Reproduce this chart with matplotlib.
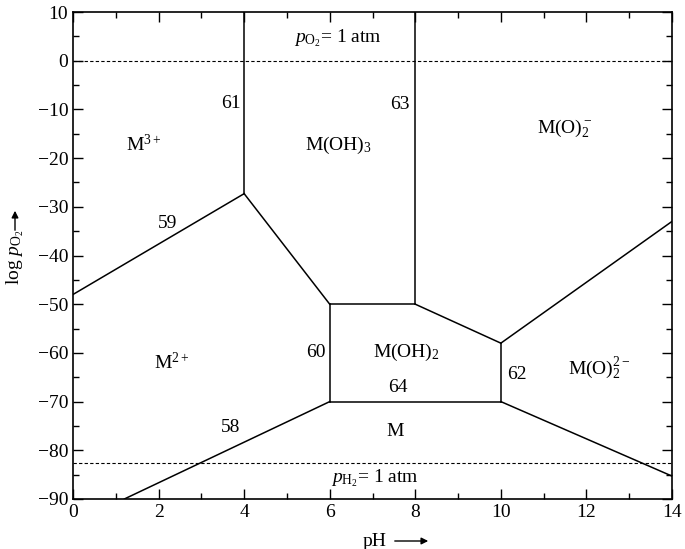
import numpy as np
import matplotlib.pyplot as plt
from matplotlib.ticker import MultipleLocator

plt.rcParams['font.family'] = ['Liberation Serif', 'DejaVu Serif']
plt.rcParams['mathtext.fontset'] = 'custom'
plt.rcParams['mathtext.rm'] = 'Liberation Serif'
plt.rcParams['mathtext.it'] = 'Liberation Serif:italic'

# boundary lines: (pH values, log pO2 values)
line_58 = ([1.2, 6], [-90, -70])
line_59 = ([0, 4], [-48, -27.3])
line_61 = ([4, 4], [-27.3, 10])
line_4_6 = ([4, 6], [-27.3, -50])
line_60 = ([6, 6], [-50, -70])
line_top = ([6, 8], [-50, -50])
line_63 = ([8, 8], [-50, 10])
line_8_10 = ([8, 10], [-50, -58])
line_62 = ([10, 10], [-58, -70])
line_10_14 = ([10, 14], [-58, -33])
line_64 = ([6, 10], [-70, -70])
line_right = ([10, 14], [-70, -85.3])
lines = [line_58, line_59, line_61, line_4_6, line_60, line_top, line_63,
         line_8_10, line_62, line_10_14, line_64, line_right]

o2_limit = 0.0
h2_limit = -82.6

# labels: text, pH, log pO2
labels = [
    (r'M$^{3+}$', 1.65, -17.3),
    ('61', 3.68, -8.7),
    (r'M(OH)$_3$', 6.2, -17.3),
    ('63', 7.64, -8.9),
    (r'M(O)$_2^-$', 11.5, -13.8),
    ('59', 2.2, -33.5),
    (r'M$^{2+}$', 2.3, -61.9),
    ('60', 5.68, -60.0),
    (r'M(OH)$_2$', 7.8, -60.0),
    ('62', 10.37, -64.5),
    (r'M(O)$_2^{2-}$', 12.3, -63.1),
    ('64', 7.6, -67.2),
    ('M', 7.52, -76.2),
    ('58', 3.68, -75.4),
    (r'$p_{\mathrm{O_2}}$= 1 atm', 6.2, 4.7),
    (r'$p_{\mathrm{H_2}}$= 1 atm', 7.05, -85.7),
]

fig = plt.figure(figsize=(6.85, 5.49), dpi=100)
ax = fig.add_axes([0.1066, 0.0911, 0.8744, 0.8870])

for x, y in lines:
    ax.plot(x, y, color='black', lw=1.1)

ax.axhline(o2_limit, color='black', lw=0.8, ls=(0, (3, 2)))
ax.axhline(h2_limit, color='black', lw=0.8, ls=(0, (3, 2)))

for txt, x, y in labels:
    ax.text(x, y, txt, fontsize=14, ha='center', va='center')

ax.set_xlim(0, 14)
ax.set_ylim(-90, 10)
ax.xaxis.set_major_locator(MultipleLocator(2))
ax.xaxis.set_minor_locator(MultipleLocator(1))
ax.yaxis.set_major_locator(MultipleLocator(10))
ax.yaxis.set_minor_locator(MultipleLocator(5))
ax.tick_params(which='both', direction='in', top=True, right=True,
               labelsize=14, width=1.0)
ax.tick_params(which='major', length=7)
ax.tick_params(which='minor', length=4)
for s in ax.spines.values():
    s.set_linewidth(1.2)

# axis titles with arrows
fig.text(375 / 685, 1 - 542 / 549, 'pH', fontsize=14, ha='center', va='center')
fig.add_artist(plt.matplotlib.patches.FancyArrowPatch(
    (392 / 685, 1 - 541 / 549), (431 / 685, 1 - 541 / 549),
    transform=fig.transFigure, arrowstyle='-|>', mutation_scale=10,
    color='black', lw=1.0))
fig.text(15 / 685, 1 - 257 / 549, r'log $p_{\mathrm{O_2}}$', fontsize=14,
         ha='center', va='center', rotation=90)
fig.add_artist(plt.matplotlib.patches.FancyArrowPatch(
    (15 / 685, 1 - 233 / 549), (15 / 685, 1 - 208 / 549),
    transform=fig.transFigure, arrowstyle='-|>', mutation_scale=10,
    color='black', lw=1.0))

fig.savefig('out.png', dpi=100)
